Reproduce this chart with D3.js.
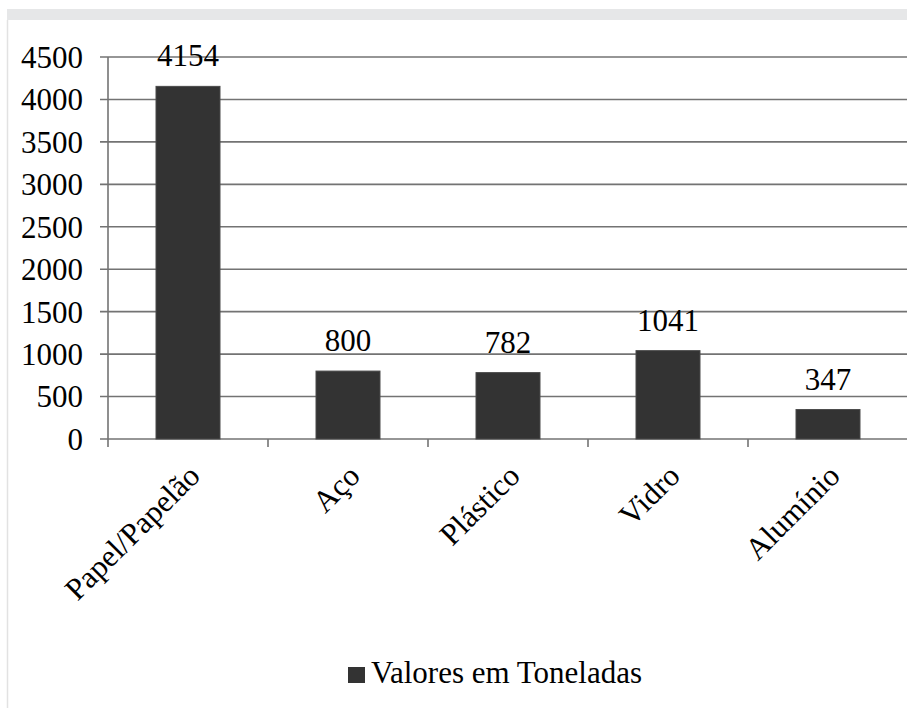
<!DOCTYPE html>
<html>
<head>
<meta charset="utf-8">
<script src="https://cdn.jsdelivr.net/npm/d3@7"></script>
<style>
  body { margin: 0; background: #fff; }
</style>
</head>
<body>
<div id="chart"></div>
<script>
// data
const categories = ["Papel/Papelão", "Aço", "Plástico", "Vidro", "Alumínio"];
const values = [4154, 800, 782, 1041, 347];
const yTicks = [0, 500, 1000, 1500, 2000, 2500, 3000, 3500, 4000, 4500];
const seriesName = "Valores em Toneladas";

const W = 907, H = 708;
const FONT = '"Liberation Serif"';
const FS = "31px";

const svg = d3.select("#chart").append("svg")
    .attr("width", W)
    .attr("height", H);

// frame bits
svg.append("rect").attr("x", 7).attr("y", 9).attr("width", W - 7).attr("height", 11).attr("fill", "#e6e7e8");
svg.append("line").attr("x1", 7.5).attr("x2", 7.5).attr("y1", 20).attr("y2", H)
    .attr("stroke", "#e2e2e2").attr("stroke-width", 1.5);

const x = d3.scaleBand()
    .domain(categories)
    .range([108, 908])
    .paddingInner(0.6)
    .paddingOuter(0.3);

const y = d3.scaleLinear()
    .domain([0, 4500])
    .range([439, 57]);

// gridlines
svg.append("g")
    .selectAll("line")
    .data(yTicks)
    .join("line")
    .attr("x1", 100)
    .attr("x2", W)
    .attr("y1", d => y(d))
    .attr("y2", d => y(d))
    .attr("stroke", "#737373")
    .attr("stroke-width", 1.6);

// y axis line
svg.append("line")
    .attr("x1", 108).attr("x2", 108)
    .attr("y1", y(4500)).attr("y2", 447)
    .attr("stroke", "#737373").attr("stroke-width", 1.6);

// category ticks
const step = x.step();
svg.append("g")
    .selectAll("line")
    .data(categories.slice(1))
    .join("line")
    .attr("x1", d => x(d) - step * 0.3)
    .attr("x2", d => x(d) - step * 0.3)
    .attr("y1", 439)
    .attr("y2", 447)
    .attr("stroke", "#737373")
    .attr("stroke-width", 1.6);

// y labels
svg.append("g")
    .selectAll("text")
    .data(yTicks)
    .join("text")
    .attr("x", 83)
    .attr("y", d => y(d))
    .attr("dy", "0.35em")
    .attr("text-anchor", "end")
    .style("font-family", FONT)
    .style("font-size", FS)
    .text(d => d);

// bars
svg.append("g")
    .selectAll("rect")
    .data(values)
    .join("rect")
    .attr("x", (d, i) => x(categories[i]))
    .attr("y", d => y(d))
    .attr("width", x.bandwidth())
    .attr("height", d => y(0) - y(d))
    .attr("fill", "#333333")
    .attr("stroke", "#4a4a4a")
    .attr("stroke-width", 1);

// value labels
svg.append("g")
    .selectAll("text")
    .data(values)
    .join("text")
    .attr("x", (d, i) => x(categories[i]) + x.bandwidth() / 2)
    .attr("y", d => y(d) - 20)
    .attr("text-anchor", "middle")
    .style("font-family", FONT)
    .style("font-size", FS)
    .text(d => d);

// category labels
svg.append("g")
    .selectAll("text")
    .data(categories)
    .join("text")
    .attr("transform", d => `translate(${x(d) + x.bandwidth() / 2 + 6},${470}) rotate(-45)`)
    .attr("dy", "0.35em")
    .attr("text-anchor", "end")
    .style("font-family", FONT)
    .style("font-size", FS)
    .text(d => d);

// legend
const legend = svg.append("g").attr("transform", "translate(348,667)");
legend.append("rect").attr("width", 17).attr("height", 16).attr("fill", "#333333");
legend.append("text")
    .attr("x", 23)
    .attr("y", 16)
    .style("font-family", FONT)
    .style("font-size", FS)
    .text(seriesName);
</script>
</body>
</html>
